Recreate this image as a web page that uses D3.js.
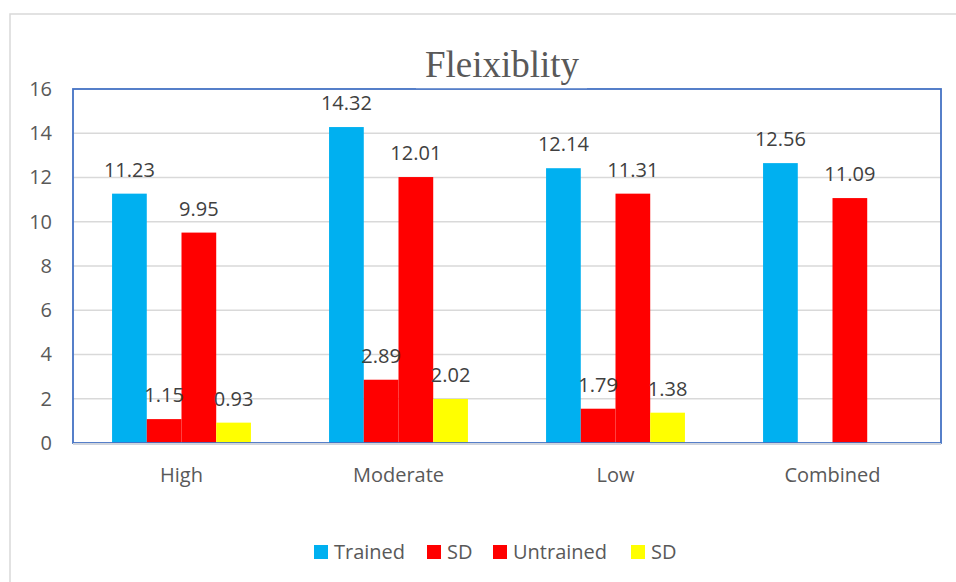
<!DOCTYPE html>
<html>
<head>
<meta charset="utf-8">
<script src="https://cdn.jsdelivr.net/npm/d3@7"></script>
<style>
  body { margin: 0; background: #fff; }
</style>
</head>
<body>
<script>
// data
const categories = ["High", "Moderate", "Low", "Combined"]
const seriesNames = ["Trained", "SD", "Untrained", "SD"]
const seriesColors = ["#00b0f0", "#ff0000", "#ff0000", "#ffff00"]
// bar heights as drawn
const trained = [11.27, 14.28, 12.42, 12.65]
const trainedSD = [1.08, 2.86, 1.55, null]
const untrained = [9.51, 12.02, 11.27, 11.07]
const untrainedSD = [0.92, 1.99, 1.37, null]
// label texts as printed
const trainedLbl = ["11.23", "14.32", "12.14", "12.56"]
const trainedSDLbl = ["1.15", "2.89", "1.79", ""]
const untrainedLbl = ["9.95", "12.01", "11.31", "11.09"]
const untrainedSDLbl = ["0.93", "2.02", "1.38", ""]
const yTicks = [0, 2, 4, 6, 8, 10, 12, 14, 16]

const series = [trained, trainedSD, untrained, untrainedSD]
const labels = [trainedLbl, trainedSDLbl, untrainedLbl, untrainedSDLbl]

function setattrs(shape, dict) {
    for (let [prop, val] of Object.entries(dict)) {
        shape.attr(prop, val)
    }
}

const W = 956, H = 582
const plot = {left: 73, right: 941, top: 89, bottom: 443}
const sans = "'Open Sans', sans-serif"

const svg = d3.select("body").append("svg")
setattrs(svg, {"width": W, "height": H, "font-family": sans})

// outer chart border
setattrs(svg.append("rect"), {
    "x": 10, "y": 14, "width": W, "height": H,
    "fill": "#fff", "stroke": "#d9d9d9", "stroke-width": 1.5
})

const x = d3.scaleBand().domain(categories).range([plot.left, plot.right])
// the four bars take the middle 64% of each category
const xInner = d3.scaleBand().domain(d3.range(4))
    .range([x.bandwidth() * 0.18, x.bandwidth() * 0.82])
const y = d3.scaleLinear().domain([0, 16]).range([plot.bottom, plot.top])

// gridlines
svg.append("g").selectAll("line").data(yTicks.slice(1, -1)).join("line")
    .attr("x1", plot.left).attr("x2", plot.right)
    .attr("y1", d => y(d)).attr("y2", d => y(d))
    .attr("stroke", "#d9d9d9").attr("stroke-width", 1.5)

// y axis labels
const yAxis = svg.append("g").attr("transform", "translate(52,0)")
    .call(d3.axisLeft(y).tickValues(yTicks).tickSize(0).tickPadding(0))
yAxis.select(".domain").remove()
yAxis.selectAll("text")
    .attr("font-family", sans).attr("font-size", 20)
    .attr("fill", "#595959")

// bars
series.forEach((vals, si) => {
    svg.append("g").selectAll("rect")
        .data(categories.map((c, i) => ({c: c, v: vals[i]})).filter(d => d.v != null))
        .join("rect")
        .attr("x", d => x(d.c) + xInner(si))
        .attr("width", xInner.bandwidth())
        .attr("y", d => y(d.v))
        .attr("height", d => y(0) - y(d.v))
        .attr("fill", seriesColors[si])
})

// data labels
series.forEach((vals, si) => {
    svg.append("g").selectAll("text")
        .data(categories.map((c, i) => ({c: c, v: vals[i], t: labels[si][i]})).filter(d => d.v != null))
        .join("text")
        .attr("x", d => x(d.c) + xInner(si) + xInner.bandwidth() / 2)
        .attr("y", d => y(d.v) - 17)
        .attr("text-anchor", "middle")
        .attr("font-size", 20)
        .attr("fill", "#404040")
        .text(d => d.t)
})

// frame: blue box, gray baseline
setattrs(svg.append("rect"), {
    "x": plot.left, "y": plot.top,
    "width": plot.right - plot.left, "height": plot.bottom - plot.top,
    "fill": "none", "stroke": "#4472c4", "stroke-width": 1.8
})
setattrs(svg.append("line"), {
    "x1": plot.left, "x2": plot.right, "y1": plot.bottom + 1, "y2": plot.bottom + 1,
    "stroke": "#d0d5de", "stroke-width": 2
})

// category labels
svg.append("g").selectAll("text").data(categories).join("text")
    .attr("x", d => x(d) + x.bandwidth() / 2)
    .attr("y", 482)
    .attr("text-anchor", "middle")
    .attr("font-size", 20)
    .attr("fill", "#595959")
    .text(d => d)

// title with white box breaking the frame line
setattrs(svg.append("rect"), {"x": 416, "y": 80, "width": 171, "height": 8.2, "fill": "#fff"})
const title = svg.append("text").text("Fleixiblity")
setattrs(title, {
    "x": 502, "y": 77, "text-anchor": "middle",
    "font-family": "'Liberation Serif', 'Times New Roman', serif",
    "font-size": 37, "fill": "#595959"
})

// legend
const legendX = [314, 427, 493, 631]
const legend = svg.append("g")
seriesNames.forEach((name, i) => {
    setattrs(legend.append("rect"), {
        "x": legendX[i], "y": 545, "width": 14, "height": 14, "fill": seriesColors[i]
    })
    setattrs(legend.append("text").text(name), {
        "x": legendX[i] + 20, "y": 559, "font-size": 20, "fill": "#595959"
    })
})
</script>
</body>
</html>
